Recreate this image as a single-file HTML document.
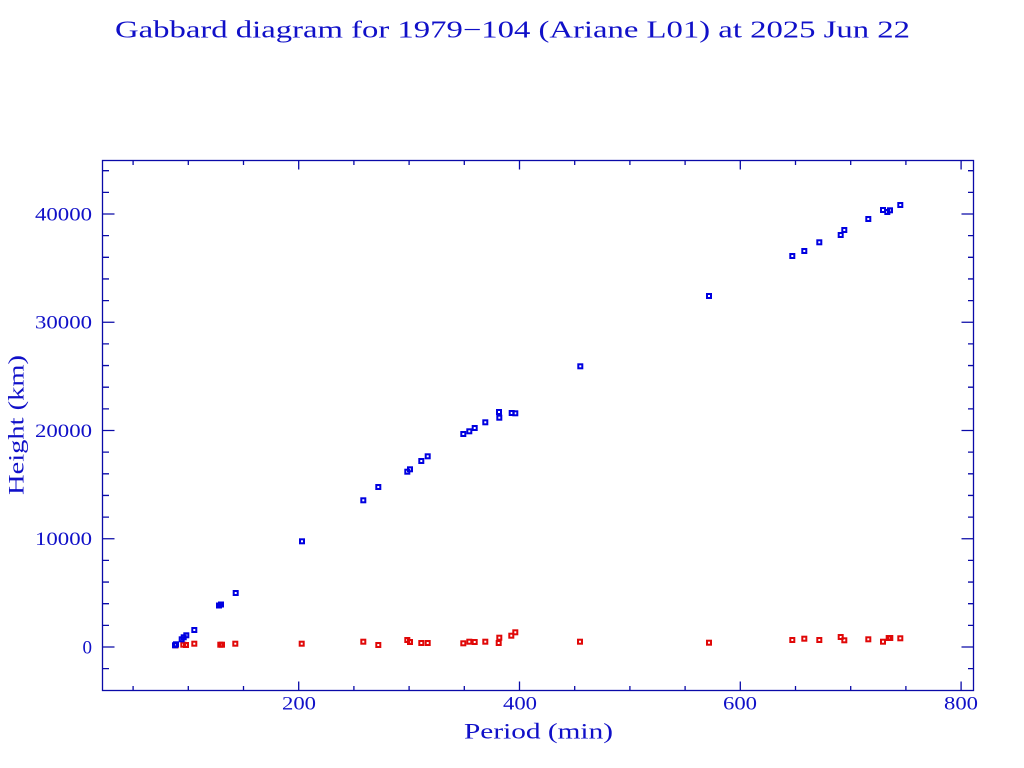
<!DOCTYPE html>
<html><head><meta charset="utf-8"><style>
html,body{margin:0;padding:0;background:#fff;}
svg{display:block;}
text{font-family:"Liberation Serif",serif;fill:#1010c8;}
</style></head><body>
<svg width="1024" height="768" viewBox="0 0 1024 768" xmlns="http://www.w3.org/2000/svg">
<rect width="1024" height="768" fill="#fff"/>
<text x="115" y="37.5" font-size="24" textLength="795" lengthAdjust="spacingAndGlyphs">Gabbard diagram for 1979&#8722;104 (Ariane L01) at 2025 Jun 22</text>
<g stroke="#0a0aa8" stroke-width="1.3" fill="none">
<rect x="102.5" y="160.5" width="871" height="530"/>
<path d="M133.1 690.5v-4.5M188.3 690.5v-4.5M243.5 690.5v-4.5M298.7 690.5v-9M353.9 690.5v-4.5M409.1 690.5v-4.5M464.3 690.5v-4.5M519.5 690.5v-9M574.7 690.5v-4.5M629.9 690.5v-4.5M685.1 690.5v-4.5M740.3 690.5v-9M795.5 690.5v-4.5M850.7 690.5v-4.5M905.9 690.5v-4.5M961.1 690.5v-9"/>
<path d="M133.1 160.5v4.5M188.3 160.5v4.5M243.5 160.5v4.5M298.7 160.5v9M353.9 160.5v4.5M409.1 160.5v4.5M464.3 160.5v4.5M519.5 160.5v9M574.7 160.5v4.5M629.9 160.5v4.5M685.1 160.5v4.5M740.3 160.5v9M795.5 160.5v4.5M850.7 160.5v4.5M905.9 160.5v4.5M961.1 160.5v9"/>
<path d="M102.5 668.65h6.5M102.5 647h12M102.5 625.35h6.5M102.5 603.7h6.5M102.5 582.05h6.5M102.5 560.4h6.5M102.5 538.75h12M102.5 517.1h6.5M102.5 495.45h6.5M102.5 473.8h6.5M102.5 452.15h6.5M102.5 430.5h12M102.5 408.85h6.5M102.5 387.2h6.5M102.5 365.55h6.5M102.5 343.9h6.5M102.5 322.25h12M102.5 300.6h6.5M102.5 278.95h6.5M102.5 257.3h6.5M102.5 235.65h6.5M102.5 214h12M102.5 192.35h6.5M102.5 170.7h6.5"/>
<path d="M973.5 668.65h-5.5M973.5 647h-12M973.5 625.35h-5.5M973.5 603.7h-5.5M973.5 582.05h-5.5M973.5 560.4h-5.5M973.5 538.75h-12M973.5 517.1h-5.5M973.5 495.45h-5.5M973.5 473.8h-5.5M973.5 452.15h-5.5M973.5 430.5h-12M973.5 408.85h-5.5M973.5 387.2h-5.5M973.5 365.55h-5.5M973.5 343.9h-5.5M973.5 322.25h-12M973.5 300.6h-5.5M973.5 278.95h-5.5M973.5 257.3h-5.5M973.5 235.65h-5.5M973.5 214h-12M973.5 192.35h-5.5M973.5 170.7h-5.5"/>
</g>
<g font-size="19" text-anchor="end">
<text x="92" y="653.3" textLength="9">0</text>
<text x="92" y="545" textLength="57" lengthAdjust="spacingAndGlyphs">10000</text>
<text x="92" y="437" textLength="57" lengthAdjust="spacingAndGlyphs">20000</text>
<text x="92" y="328.5" textLength="57" lengthAdjust="spacingAndGlyphs">30000</text>
<text x="92" y="220.3" textLength="57" lengthAdjust="spacingAndGlyphs">40000</text>
</g>
<g font-size="19" text-anchor="middle">
<text x="299" y="709.5" textLength="34" lengthAdjust="spacingAndGlyphs">200</text>
<text x="520" y="709.5" textLength="34" lengthAdjust="spacingAndGlyphs">400</text>
<text x="740" y="709.5" textLength="34" lengthAdjust="spacingAndGlyphs">600</text>
<text x="961" y="709.5" textLength="34" lengthAdjust="spacingAndGlyphs">800</text>
</g>
<text x="464" y="738.5" font-size="22" textLength="149" lengthAdjust="spacingAndGlyphs">Period (min)</text>
<text transform="translate(23.5,495) rotate(-90)" x="0" y="0" font-size="22" textLength="140" lengthAdjust="spacingAndGlyphs">Height (km)</text>
<g fill="none" stroke="#e00808" stroke-width="2">
<rect x="173.7" y="643.3" width="4" height="4"/>
<rect x="181.3" y="642.7" width="4" height="4"/>
<rect x="184" y="643" width="4" height="4"/>
<rect x="192.3" y="641.7" width="4" height="4"/>
<rect x="218.3" y="642.7" width="4" height="4"/>
<rect x="220" y="642.7" width="4" height="4"/>
<rect x="233.3" y="641.7" width="4" height="4"/>
<rect x="299.7" y="641.7" width="4" height="4"/>
<rect x="361.3" y="639.7" width="4" height="4"/>
<rect x="376.3" y="643" width="4" height="4"/>
<rect x="405.3" y="638" width="4" height="4"/>
<rect x="408" y="640" width="4" height="4"/>
<rect x="419.3" y="641" width="4" height="4"/>
<rect x="425.7" y="641" width="4" height="4"/>
<rect x="461.3" y="641.3" width="4" height="4"/>
<rect x="467.3" y="639.7" width="4" height="4"/>
<rect x="472.7" y="640" width="4" height="4"/>
<rect x="483.3" y="639.7" width="4" height="4"/>
<rect x="497.3" y="635.7" width="4" height="4"/>
<rect x="496.7" y="641" width="4" height="4"/>
<rect x="509.3" y="633.7" width="4" height="4"/>
<rect x="513.3" y="630.3" width="4" height="4"/>
<rect x="578" y="639.7" width="4" height="4"/>
<rect x="707" y="640.7" width="4" height="4"/>
<rect x="790.3" y="638" width="4" height="4"/>
<rect x="802.3" y="636.7" width="4" height="4"/>
<rect x="817.3" y="638" width="4" height="4"/>
<rect x="838.7" y="635" width="4" height="4"/>
<rect x="842.3" y="638.3" width="4" height="4"/>
<rect x="866.3" y="637.3" width="4" height="4"/>
<rect x="881" y="639.7" width="4" height="4"/>
<rect x="886.7" y="636" width="4" height="4"/>
<rect x="888.3" y="636" width="4" height="4"/>
<rect x="898.3" y="636.3" width="4" height="4"/>
</g>
<g fill="none" stroke="#0000e0" stroke-width="2">
<rect x="173" y="643.3" width="4" height="4"/>
<rect x="174" y="642.3" width="4" height="4"/>
<rect x="179.7" y="637.3" width="4" height="4"/>
<rect x="181.7" y="635.3" width="4" height="4"/>
<rect x="184.3" y="633.3" width="4" height="4"/>
<rect x="192.3" y="628" width="4" height="4"/>
<rect x="217" y="603.5" width="4" height="4"/>
<rect x="219" y="602.5" width="4" height="4"/>
<rect x="233.7" y="591" width="4" height="4"/>
<rect x="300" y="539.3" width="4" height="4"/>
<rect x="361.3" y="498.3" width="4" height="4"/>
<rect x="376.3" y="485" width="4" height="4"/>
<rect x="405.3" y="469.7" width="4" height="4"/>
<rect x="408" y="467.3" width="4" height="4"/>
<rect x="419.3" y="459" width="4" height="4"/>
<rect x="425.7" y="454.3" width="4" height="4"/>
<rect x="461.3" y="432" width="4" height="4"/>
<rect x="467.3" y="429.3" width="4" height="4"/>
<rect x="472.7" y="426" width="4" height="4"/>
<rect x="483.3" y="420.3" width="4" height="4"/>
<rect x="497" y="410" width="4" height="4"/>
<rect x="497.3" y="415.7" width="4" height="4"/>
<rect x="509.7" y="411" width="4" height="4"/>
<rect x="513.3" y="411.3" width="4" height="4"/>
<rect x="578.3" y="364.3" width="4" height="4"/>
<rect x="707" y="294" width="4" height="4"/>
<rect x="790.3" y="254" width="4" height="4"/>
<rect x="802.3" y="249" width="4" height="4"/>
<rect x="817.3" y="240.3" width="4" height="4"/>
<rect x="838.7" y="233" width="4" height="4"/>
<rect x="842.3" y="228" width="4" height="4"/>
<rect x="866.3" y="217" width="4" height="4"/>
<rect x="881" y="208" width="4" height="4"/>
<rect x="885.3" y="210" width="4" height="4"/>
<rect x="888" y="208.3" width="4" height="4"/>
<rect x="898.3" y="203" width="4" height="4"/>
</g>
</svg>
</body></html>
